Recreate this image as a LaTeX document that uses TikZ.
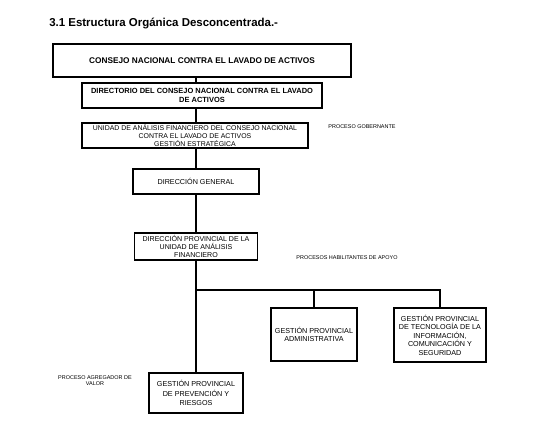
\documentclass[tikz,border=0pt]{standalone}
\usepackage{fontspec}
\setmainfont{Liberation Sans}
\usetikzlibrary{positioning, calc}

\begin{document}
\begin{tikzpicture}[
    x=0.75pt, y=-0.75pt,
    box/.style={rectangle, draw=black, line width=0.9pt, align=center, inner sep=1pt, font=\fontsize{5.4}{6.4}\selectfont},
    headbox/.style={box, font=\bfseries\fontsize{6.2}{7}\selectfont},
    proc/.style={align=center, inner sep=0pt, font=\fontsize{4.1}{4.6}\selectfont},
    link/.style={line width=1.4pt}
]
\useasboundingbox (0,0) rectangle (544,430);

% Title
\node (titulo) [anchor=base west, inner sep=0pt, font=\bfseries\fontsize{8.6}{10}\selectfont] at (49,26) {3.1 Estructura Orgánica Desconcentrada.-};

% Nodes
\node (consejo) [headbox, minimum width=223.5pt, minimum height=24.75pt, line width=1.1pt] at (202,60.5) {CONSEJO NACIONAL CONTRA EL LAVADO DE ACTIVOS};
\node (directorio) [headbox, minimum width=180pt, minimum height=18.75pt, font=\bfseries\fontsize{5.6}{6.8}\selectfont] at (202,95.5) {DIRECTORIO DEL CONSEJO NACIONAL CONTRA EL LAVADO\\DE ACTIVOS};
\node (uaf) [box, minimum width=169.5pt, minimum height=18.75pt, font=\fontsize{5.2}{5.8}\selectfont] at (195,135.5) {UNIDAD DE ANÁLISIS FINANCIERO DEL CONSEJO NACIONAL\\CONTRA EL LAVADO DE ACTIVOS\\GESTIÓN ESTRATÉGICA};
\node (direccion) [box, minimum width=94.5pt, minimum height=18.75pt] at (196,181.5) {DIRECCIÓN GENERAL};
\node (dirprov) [box, minimum width=92.25pt, minimum height=20.25pt, font=\fontsize{5.3}{6}\selectfont] at (196,246.5) {DIRECCIÓN PROVINCIAL DE LA\\UNIDAD DE ANÁLISIS\\FINANCIERO};

\node (administrativa) [box, minimum width=64.5pt, minimum height=39.75pt] at (314,334.5) {GESTIÓN PROVINCIAL\\ADMINISTRATIVA};
\node (tecnologia) [box, line width=1.6pt, minimum width=69pt, minimum height=40.5pt] at (440,335) {GESTIÓN PROVINCIAL\\DE TECNOLOGÍA DE LA\\INFORMACIÓN,\\COMUNICACIÓN Y\\SEGURIDAD};
\node (prevencion) [box, minimum width=70.5pt, minimum height=30pt, font=\fontsize{5.4}{7.4}\selectfont] at (196,393) {GESTIÓN PROVINCIAL\\DE PREVENCIÓN Y\\RIESGOS};

% Process labels
\node (gobernante) [proc] at (362,127) {PROCESO GOBERNANTE};
\node (habilitantes) [proc] at (347,258) {PROCESOS HABILITANTES DE APOYO};
\node (agregador) [proc] at (95,381) {PROCESO AGREGADOR DE\\VALOR};

\coordinate (rama) at (196,290);

% Arrows
\draw [link] (direccion |- directorio.north) -- (direccion |- consejo.south);
\draw [link] (uaf.north -| direccion) -- (direccion |- directorio.south);
\draw [link] (direccion.north) -- (direccion |- uaf.south);
\draw [link] (dirprov.north) -- (direccion.south);
\draw [link] (dirprov.south) -- (prevencion.north);
\draw [link] (rama) -| (tecnologia.north);
\draw [link] (rama -| administrativa.north) -- (administrativa.north);

\end{tikzpicture}
\end{document}
